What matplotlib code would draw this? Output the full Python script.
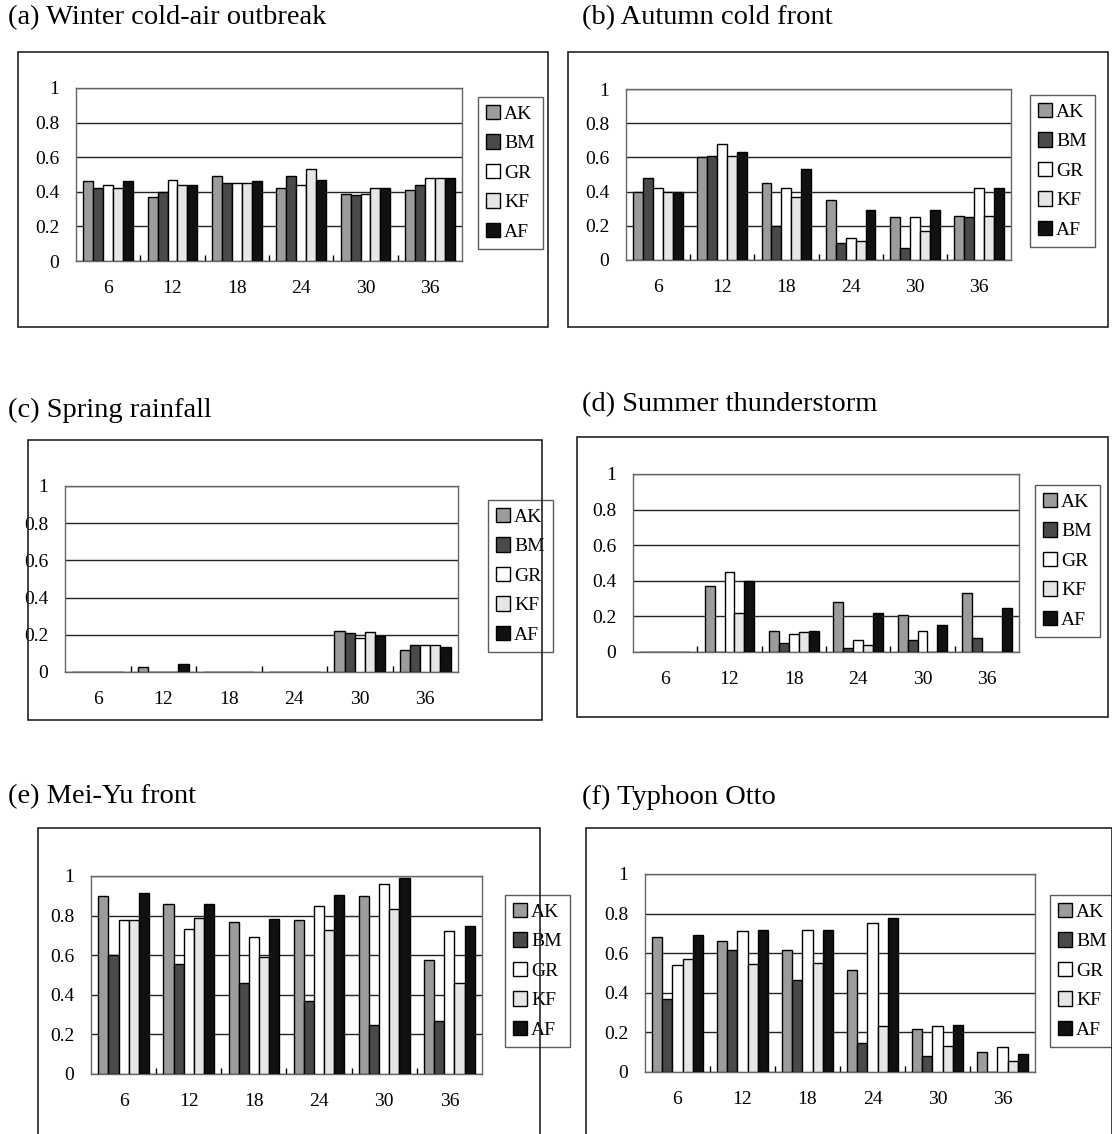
import matplotlib
matplotlib.use('Agg')
import matplotlib.pyplot as plt
from matplotlib.patches import Rectangle
import numpy as np

plt.rcParams['font.family'] = ['Liberation Serif', 'DejaVu Serif']

hours = [6, 12, 18, 24, 30, 36]
models = ['AK', 'BM', 'GR', 'KF', 'AF']
colors = ['#9c9c9c', '#4a4a4a', '#ffffff', '#e6e6e6', '#111111']

titles = ['(a) Winter cold-air outbreak', '(b) Autumn cold front', '(c) Spring rainfall',
          '(d) Summer thunderstorm', '(e) Mei-Yu front', '(f) Typhoon Otto']

# scores per panel, one row per model (AK, BM, GR, KF, AF), columns = forecast hours
winter = [[0.46, 0.37, 0.49, 0.42, 0.39, 0.41],
          [0.42, 0.40, 0.45, 0.49, 0.38, 0.44],
          [0.44, 0.47, 0.45, 0.44, 0.39, 0.48],
          [0.42, 0.44, 0.45, 0.53, 0.42, 0.48],
          [0.46, 0.44, 0.46, 0.47, 0.42, 0.48]]
autumn = [[0.40, 0.60, 0.45, 0.35, 0.25, 0.26],
          [0.48, 0.61, 0.20, 0.10, 0.07, 0.25],
          [0.42, 0.68, 0.42, 0.13, 0.25, 0.42],
          [0.40, 0.61, 0.37, 0.11, 0.17, 0.26],
          [0.40, 0.63, 0.53, 0.29, 0.29, 0.42]]
spring = [[0.0, 0.025, 0.0, 0.0, 0.22, 0.12],
          [0.0, 0.0, 0.0, 0.0, 0.21, 0.145],
          [0.0, 0.0, 0.0, 0.0, 0.185, 0.145],
          [0.0, 0.0, 0.0, 0.0, 0.215, 0.145],
          [0.0, 0.043, 0.0, 0.0, 0.195, 0.135]]
summer = [[0.0, 0.37, 0.12, 0.28, 0.21, 0.33],
          [0.0, 0.0, 0.05, 0.02, 0.07, 0.08],
          [0.0, 0.45, 0.10, 0.07, 0.12, 0.0],
          [0.0, 0.22, 0.11, 0.04, 0.0, 0.0],
          [0.0, 0.40, 0.12, 0.22, 0.15, 0.25]]
meiyu = [[0.90, 0.86, 0.77, 0.78, 0.90, 0.575],
         [0.60, 0.555, 0.46, 0.37, 0.245, 0.27],
         [0.78, 0.73, 0.69, 0.85, 0.96, 0.72],
         [0.78, 0.79, 0.59, 0.725, 0.835, 0.46],
         [0.915, 0.86, 0.785, 0.905, 0.99, 0.745]]
typhoon = [[0.68, 0.66, 0.615, 0.515, 0.215, 0.10],
           [0.37, 0.615, 0.465, 0.145, 0.08, 0.0],
           [0.54, 0.71, 0.715, 0.755, 0.23, 0.125],
           [0.57, 0.545, 0.55, 0.23, 0.13, 0.055],
           [0.69, 0.715, 0.715, 0.78, 0.235, 0.09]]
panels = [winter, autumn, spring, summer, meiyu, typhoon]

W, H = 1112, 1134
# pixel boxes: outer box (l, t, r, b), plot area (l, t, r, b), legend top-left, title position
frames = [(18, 52, 548, 327), (568, 52, 1108, 327), (28, 440, 542, 720),
          (577, 437, 1108, 717), (38, 828, 540, 1140), (586, 828, 1112, 1140)]
plots = [(76, 88, 462, 261), (626, 89, 1011, 260), (65, 486, 458, 672),
         (633, 474, 1019, 652), (91, 876, 482, 1074), (645, 874, 1035, 1072)]
legpos = [(478, 97), (1030, 95), (488, 500), (1035, 485), (505, 895), (1050, 895)]
titlepos = [(8, 18), (582, 18), (8, 410), (582, 405), (8, 797), (582, 797)]

fig = plt.figure(figsize=(W / 100, H / 100), dpi=100)

x = np.arange(len(hours))
bw = 0.155
for i in range(6):
    l, t, r, b = frames[i]
    fig.patches.append(Rectangle((l / W, 1 - b / H), (r - l) / W, (b - t) / H,
                                 transform=fig.transFigure, fill=False,
                                 edgecolor='#222222', linewidth=1.2))
    tx, ty = titlepos[i]
    fig.text(tx / W, 1 - ty / H, titles[i], fontsize=20.5, va='center', ha='left')

    pl, pt, pr, pb = plots[i]
    ax = fig.add_axes([pl / W, 1 - pb / H, (pr - pl) / W, (pb - pt) / H])
    data = panels[i]
    for k in range(5):
        ax.bar(x + (k - 2) * bw, data[k], width=bw, color=colors[k],
               edgecolor='black', linewidth=1.0, label=models[k], zorder=3)
    ax.set_xlim(-0.5, 5.5)
    ax.set_ylim(0, 1)
    ax.set_yticks([0, 0.2, 0.4, 0.6, 0.8, 1])
    ax.set_yticklabels(['0', '0.2', '0.4', '0.6', '0.8', '1'])
    ax.set_xticks(x)
    ax.set_xticklabels([str(h) for h in hours])
    ax.set_xticks(np.arange(0.5, 5.5, 1), minor=True)
    ax.tick_params(axis='x', which='major', length=0, labelsize=14, pad=14)
    ax.tick_params(axis='x', which='minor', direction='in', length=4, width=1)
    ax.tick_params(axis='y', length=0, labelsize=14, pad=12)
    ax.yaxis.grid(True, color='#222222', linewidth=1.0, zorder=0)
    ax.set_axisbelow(True)
    for s in ax.spines.values():
        s.set_color('#666666')
        s.set_linewidth(1.0)

    lx, ly = legpos[i]
    leg = ax.legend(loc='upper left', bbox_to_anchor=(lx / W, 1 - ly / H),
                    bbox_transform=fig.transFigure, frameon=True, fancybox=False,
                    fontsize=14, handlelength=0.75, handleheight=0.75,
                    handletextpad=0.2, labelspacing=0.6, borderpad=0.4,
                    borderaxespad=0)
    leg.get_frame().set_edgecolor('#333333')
    leg.get_frame().set_linewidth(1.0)

fig.savefig('out.png', dpi=100)
